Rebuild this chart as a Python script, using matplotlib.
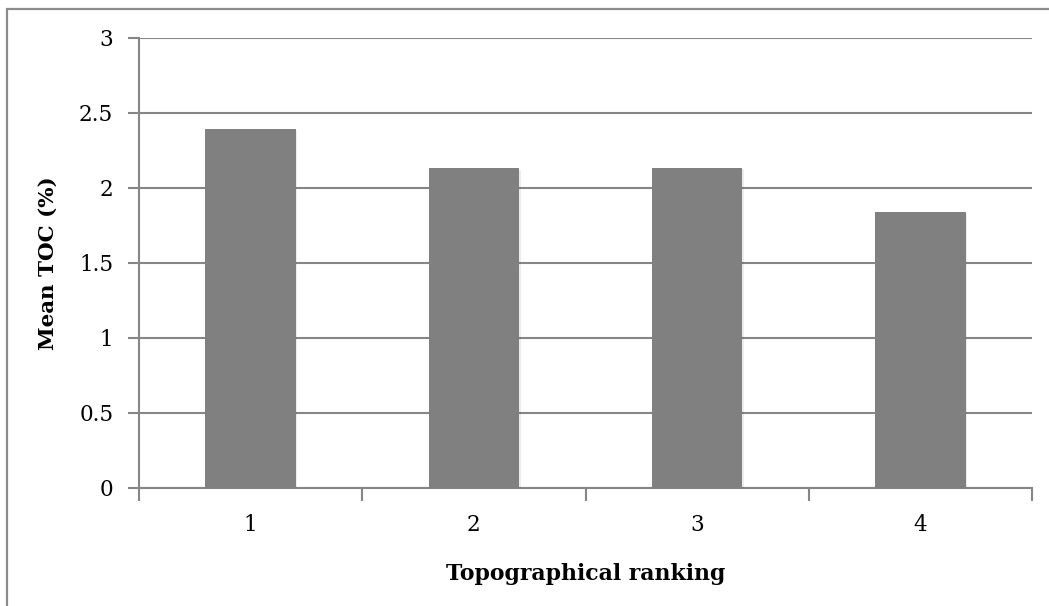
import matplotlib
matplotlib.use("Agg")
import matplotlib.pyplot as plt
from matplotlib.patches import Rectangle
from matplotlib import patheffects as pe

# Mean total organic carbon by topographical ranking
rankings = ["1", "2", "3", "4"]
mean_toc = [2.39, 2.13, 2.133, 1.836]
y_ticks = [0, 0.5, 1, 1.5, 2, 2.5, 3]
y_tick_labels = ["0", "0.5", "1", "1.5", "2", "2.5", "3"]

W, H = 1049, 606
fig = plt.figure(figsize=(W / 100, H / 100), dpi=100)
fig.patch.set_facecolor("white")

plt.rcParams["font.family"] = ["DejaVu Serif"]

# outer chart frame (runs past the right and bottom edges)
frame = Rectangle((7 / W, -0.05), 1.2, 1 - 8.5 / H + 0.05,
                  transform=fig.transFigure, fill=False,
                  edgecolor="#8c8c8c", linewidth=1.6)
fig.add_artist(frame)

left, right = 139 / W, 1032 / W
top, bottom = 1 - 37.7 / H, 1 - 487.7 / H
ax = fig.add_axes([left, bottom, right - left, top - bottom])

grey = "#868686"
positions = list(range(1, len(rankings) + 1))
bars = ax.bar(positions, mean_toc, width=0.406, color="#808080",
              zorder=3, linewidth=0)
for b in bars:
    b.set_path_effects([
        pe.SimplePatchShadow(offset=(1, -1), shadow_rgbFace="#000000",
                             alpha=0.07),
        pe.Normal(),
    ])

ax.set_xlim(0.5, len(rankings) + 0.5)
ax.set_ylim(0, 3)

ax.set_yticks(y_ticks)
ax.set_yticklabels(y_tick_labels)
ax.yaxis.grid(True, color=grey, linewidth=1.5, zorder=0)
ax.set_axisbelow(True)

# category boundaries carry tick marks; labels sit at category centres
ax.set_xticks([p - 0.5 for p in positions] + [positions[-1] + 0.5])
ax.set_xticklabels([])
ax.set_xticks(positions, minor=True)
ax.set_xticklabels(rankings, minor=True)
ax.tick_params(axis="x", which="major", length=9, width=1.5, color=grey,
               direction="out")
ax.tick_params(axis="x", which="minor", length=0, pad=19, labelsize=15.5)
ax.tick_params(axis="y", length=8, width=1.5, color=grey, direction="out",
               pad=10.5, labelsize=15.5)

for side in ("top", "right"):
    ax.spines[side].set_visible(False)
for side in ("left", "bottom"):
    ax.spines[side].set_color(grey)
    ax.spines[side].set_linewidth(1.5)

ax.set_xlabel("Topographical ranking", fontsize=15.8, fontweight="bold")
ax.set_ylabel("Mean TOC (%)", fontsize=15.4, fontweight="bold")
ax.xaxis.set_label_coords(0.5, -0.167)
ax.yaxis.set_label_coords(-0.0907, 0.5)

fig.savefig("out.png", dpi=100)
